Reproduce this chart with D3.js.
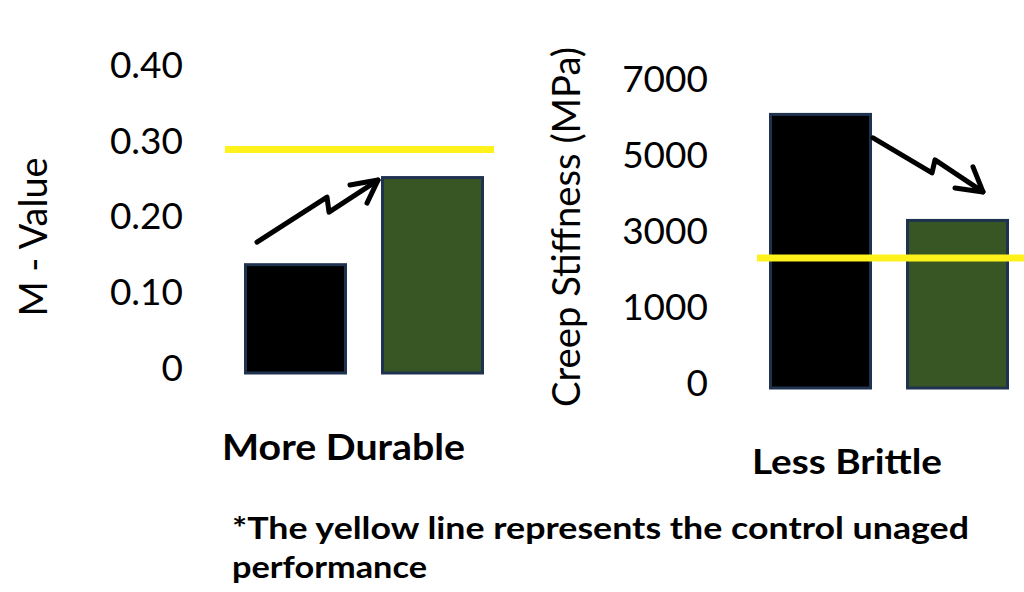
<!DOCTYPE html>
<html>
<head>
<meta charset="utf-8">
<script src="https://cdn.jsdelivr.net/npm/d3@7"></script>
<style>
  body { margin: 0; background: #fff; }
  svg { display: block; font-family: Lato, "Open Sans", sans-serif; }
</style>
</head>
<body>
<div id="chart"></div>
<script>
// data
var barNames = ["Aged", "Aged + Treatment"];
var mValues = [0.143, 0.258];
var mControl = 0.295;
var mTicks = [0, 0.1, 0.2, 0.3, 0.4];
var mTickLabels = ["0", "0.10", "0.20", "0.30", "0.40"];

var stiffValues = [6200, 3410];
var stiffControl = 2420;
var stiffTicks = [0, 1000, 3000, 5000, 7000];

var barColors = ["#000000", "#375623"];

var width = 1024, height = 592;

var svg = d3.select("#chart").append("svg")
    .attr("width", width)
    .attr("height", height);

// ---- left panel: M - Value
var xL = d3.scaleBand().domain(barNames).range([245.5, 482.5]).paddingInner(0.27);
var yL = d3.scaleLinear().domain([0, 0.4]).range([373, 70]);

// ---- right panel: creep stiffness, labels sit evenly spaced
var step = 76;
var xR = d3.scaleBand().domain(barNames).range([770.5, 1007.5]).paddingInner(0.27);
var yR = d3.scaleLinear()
    .domain(stiffTicks)
    .range(stiffTicks.map((d, i) => 388 - i * step));

function drawPanel(x, y, values, control, ticks, labels, labelX, lineX) {
    var g = svg.append("g");

    g.selectAll("text.tick")
        .data(ticks)
        .join("text")
        .attr("class", "tick")
        .attr("x", labelX)
        .attr("y", d => y(d) - 5)
        .attr("dy", "0.35em")
        .attr("text-anchor", "end")
        .attr("font-size", 37)
        .attr("fill", "#000")
        .text((d, i) => labels[i]);

    g.selectAll("rect")
        .data(values)
        .join("rect")
        .attr("x", (d, i) => x(barNames[i]))
        .attr("y", d => y(d))
        .attr("width", x.bandwidth())
        .attr("height", d => y(0) - y(d))
        .attr("fill", (d, i) => barColors[i])
        .attr("stroke", "#1f3350")
        .attr("stroke-width", 3);

    g.append("line")
        .attr("x1", lineX[0])
        .attr("x2", lineX[1])
        .attr("y1", y(control))
        .attr("y2", y(control))
        .attr("stroke", "#fff21a")
        .attr("stroke-width", 7);

    return g;
}

var gL = drawPanel(xL, yL, mValues, mControl, mTicks, mTickLabels, 183, [225, 494]);
var gR = drawPanel(xR, yR, stiffValues, stiffControl, stiffTicks, stiffTicks.map(String), 708, [757, 1024]);

// zigzag arrows, anchored on the bars
var arrowLine = d3.line();

function arrow(g, pts, head) {
    g.append("path")
        .attr("d", arrowLine(pts))
        .attr("fill", "none")
        .attr("stroke", "#000")
        .attr("stroke-width", 5)
        .attr("stroke-linejoin", "round")
        .attr("stroke-linecap", "round");
    g.append("path")
        .attr("d", arrowLine(head))
        .attr("fill", "none")
        .attr("stroke", "#000")
        .attr("stroke-width", 5)
        .attr("stroke-linejoin", "round")
        .attr("stroke-linecap", "round");
}

// left: up from black bar to top of green bar
var s = [xL(barNames[0]) + 11.5, yL(mValues[0]) - 22.5];
var t = [xL(barNames[1]) - 4.5, yL(mValues[1]) + 2.5];
arrow(gL,
    [s, [s[0] + 70, s[1] - 45], [s[0] + 72, s[1] - 30], t],
    [[t[0] - 28, t[1] + 5], t, [t[0] - 11, t[1] + 23]]);

// right: down from black bar toward green bar
s = [xR(barNames[0]) + xR.bandwidth() + 2.5, yR(stiffValues[0]) + 23.5];
t = [xR(barNames[1]) + 75.5, yR(stiffValues[1]) - 28.5];
arrow(gR,
    [s, [s[0] + 59, s[1] + 35], [s[0] + 62, s[1] + 22], t],
    [[t[0] - 28, t[1] - 4], t, [t[0] - 10, t[1] - 25]]);

// axis titles
svg.append("text")
    .attr("transform", "translate(47,237) rotate(-90)")
    .attr("text-anchor", "middle")
    .attr("font-size", 38)
    .attr("textLength", 159)
    .attr("lengthAdjust", "spacingAndGlyphs")
    .text("M - Value");

svg.append("text")
    .attr("transform", "translate(580,227) rotate(-90)")
    .attr("text-anchor", "middle")
    .attr("font-size", 38)
    .attr("textLength", 360)
    .attr("lengthAdjust", "spacingAndGlyphs")
    .text("Creep Stiffness (MPa)");

// panel captions and note
var notes = [
    {text: "More Durable", x: 222, y: 460, len: 243, size: 36},
    {text: "Less Brittle", x: 752, y: 474, len: 190, size: 35},
    {text: "*The yellow line represents the control unaged", x: 232, y: 539, len: 737, size: 30},
    {text: "performance", x: 232, y: 578, len: 195, size: 30}
];

svg.selectAll("text.note")
    .data(notes)
    .join("text")
    .attr("class", "note")
    .attr("x", d => d.x)
    .attr("y", d => d.y)
    .attr("font-size", d => d.size)
    .attr("font-weight", "bold")
    .attr("textLength", d => d.len)
    .attr("lengthAdjust", "spacingAndGlyphs")
    .text(d => d.text);
</script>
</body>
</html>
